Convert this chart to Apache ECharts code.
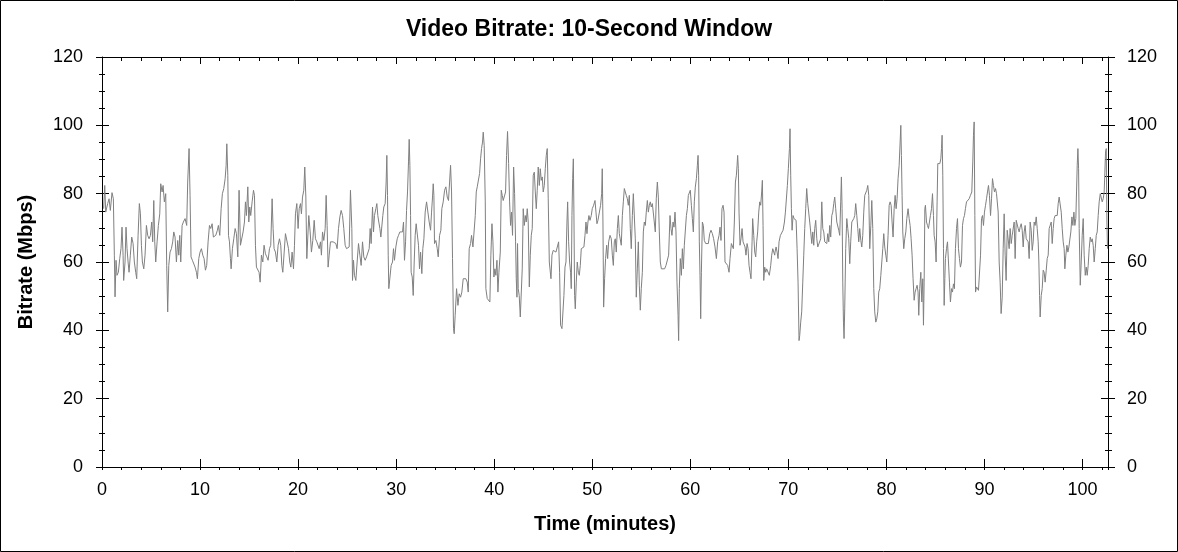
<!DOCTYPE html>
<html>
<head>
<meta charset="utf-8">
<title>Video Bitrate</title>
<script src="https://cdn.jsdelivr.net/npm/echarts@6/dist/echarts.min.js"></script>
<style>
  html, body { margin: 0; padding: 0; background: #fff; }
  #chart { width: 1178px; height: 552px; }
</style>
</head>
<body>
<div id="chart"></div>
<script>
// [minutes, Mbps], one array per stretch of the run
var part00to11 = [[0.17,75.6],[0.28,82.4],[0.38,74.6],[0.58,77.1],[0.72,78.5],[0.85,75.1],[1.02,80.3],[1.16,78.5],[1.26,62],[1.33,49.8],[1.43,60.5],[1.53,56.1],[1.67,57],[1.81,61],[1.94,64],[2.04,70.2],[2.15,62],[2.21,54.6],[2.35,60],[2.45,70.2],[2.55,64],[2.66,60],[2.76,57],[2.89,62],[3.03,67.3],[3.17,65.4],[3.30,60],[3.44,57],[3.54,55.1],[3.68,67.8],[3.81,77.1],[3.92,74.1],[4.02,64.9],[4.12,60],[4.26,58],[4.39,62],[4.53,70.7],[4.66,67.8],[4.80,66.8],[4.94,67.8],[5.07,71.7],[5.17,65.9],[5.28,78],[5.38,65.9],[5.48,60],[5.62,65.9],[5.75,70.7],[5.89,74.1],[5.99,82.9],[6.13,80.5],[6.23,82.4],[6.36,77.6],[6.50,80],[6.60,59],[6.70,45.4],[6.81,59],[6.94,62.9],[7.08,63.9],[7.21,65.9],[7.32,68.8],[7.45,67.3],[7.59,60],[7.72,66.3],[7.83,62],[7.93,67.8],[8.03,60],[8.17,70.7],[8.30,71.7],[8.47,72.7],[8.64,70.7],[8.74,83.4],[8.88,93.2],[8.98,79.5],[9.08,61.5],[9.22,60.5],[9.36,60],[9.49,58.5],[9.63,57],[9.73,55.1],[9.87,61],[10.00,62.9],[10.14,63.9],[10.28,62],[10.41,61],[10.55,57.6],[10.68,59],[10.82,65.9],[10.96,70.7],[11.09,69.8],[11.23,71.2],[11.36,67.3]];
var part11to23 = [[11.40,67.3],[11.60,67.8],[11.77,69.3],[11.87,70.7],[12.01,67.8],[12.15,75.6],[12.28,80],[12.42,81.5],[12.56,84.4],[12.66,88.3],[12.73,94.6],[12.83,85.4],[12.90,67.8],[13.00,65.9],[13.10,61],[13.17,58],[13.30,63.9],[13.44,66.8],[13.58,69.8],[13.71,68.3],[13.85,61.5],[13.98,81],[14.12,64.9],[14.26,64.4],[14.39,68.8],[14.53,71.7],[14.63,77.6],[14.73,73.6],[14.87,82],[14.97,71.7],[15.07,76.1],[15.17,73.6],[15.31,77.6],[15.45,81],[15.55,79.5],[15.65,64.9],[15.75,58.5],[15.89,58],[16.02,57],[16.13,54.1],[16.26,62],[16.40,60],[16.53,64.9],[16.67,62.4],[16.81,61.5],[16.94,60.5],[17.08,63.9],[17.21,64.9],[17.35,78.5],[17.45,69.8],[17.55,63.9],[17.69,62.9],[17.83,60],[17.96,64.9],[18.10,66.8],[18.23,64.9],[18.34,59],[18.44,57],[18.58,62.9],[18.71,68.3],[18.88,68.3],[19.02,63.9],[19.15,60],[19.26,58.5],[19.39,62.9],[19.53,58],[19.63,64.9],[19.73,74.1],[19.87,77.1],[20.00,69.8],[20.11,75.6],[20.24,77.1],[20.34,74.1],[20.45,79],[20.58,81],[20.68,87.8],[20.79,79],[20.89,61],[20.99,67.3],[21.09,73.6],[21.23,68.8],[21.36,62.9],[21.50,66.3],[21.64,72.2],[21.77,66.8],[21.91,65.9],[22.04,65.4],[22.15,63.9],[22.28,65.9],[22.38,62],[22.49,68.8],[22.62,66.3],[22.76,69.8],[22.86,79.5]];
var part23to34 = [[22.96,70.7],[23.06,58.5],[23.17,62],[23.30,65.9],[23.44,66.3],[23.57,65.9],[23.71,66.3],[23.85,65.4],[23.98,63.9],[24.12,69.8],[24.26,73.2],[24.39,75.1],[24.53,73.6],[24.66,69.8],[24.80,64.9],[24.94,63.9],[25.07,63.4],[25.21,64.4],[25.34,81],[25.48,69.8],[25.55,54.6],[25.65,60.5],[25.75,56.1],[25.89,54.6],[26.02,60],[26.16,65.4],[26.30,62],[26.43,59],[26.57,65.9],[26.70,61.5],[26.84,60.5],[26.98,61.5],[27.11,61],[27.25,63.9],[27.35,69.8],[27.45,65.4],[27.59,76.1],[27.69,68.8],[27.79,73.6],[27.93,75.6],[28.03,77.1],[28.13,73.6],[28.23,71.7],[28.34,69.8],[28.44,67.3],[28.54,66.8],[28.64,73.6],[28.74,76.1],[28.88,77.1],[28.98,83.4],[29.05,91.2],[29.12,79.5],[29.19,62],[29.25,52.2],[29.39,52.7],[29.49,59],[29.63,60],[29.73,63.9],[29.83,60.5],[29.97,64.4],[30.11,66.8],[30.24,67.8],[30.38,68.8],[30.51,68.3],[30.65,68.8],[30.75,71.7],[30.85,60.5],[30.96,65.9],[31.06,75.1],[31.16,80.5],[31.26,89.3],[31.33,95.9],[31.40,88.3],[31.47,73.6],[31.53,57],[31.64,55.6],[31.74,50.2],[31.84,60],[31.94,67.8],[32.04,71.2],[32.18,71.7],[32.28,64.9],[32.38,58],[32.49,62.9],[32.62,56.6],[32.72,63.9],[32.83,66.8],[32.96,74.6],[33.10,77.6],[33.23,77.6],[33.37,71.7],[33.51,69.3],[33.61,74.6],[33.71,79],[33.78,82.9],[33.85,79.5],[33.91,65.4],[34.05,66.3],[34.19,63.9],[34.29,61.5]];
var part34to46 = [[34.43,67.8],[34.56,69.3],[34.66,75.6],[34.80,77.6],[34.94,81],[35.07,82],[35.21,79],[35.34,78],[35.45,83.4],[35.55,88.3],[35.65,80.5],[35.75,61],[35.85,40.5],[35.92,39],[36.02,44.4],[36.16,52.2],[36.30,47.3],[36.43,50.7],[36.57,49.7],[36.70,51.2],[36.84,55.1],[36.98,54.6],[37.11,55.1],[37.25,54.1],[37.35,51.2],[37.45,63.9],[37.59,65.4],[37.69,67.8],[37.83,64.4],[37.96,63.9],[38.07,73.6],[38.17,80.5],[38.27,82],[38.41,82.4],[38.51,85.9],[38.61,90.2],[38.71,93.2],[38.81,95.1],[38.88,98],[38.98,94.1],[39.09,77.6],[39.15,52.2],[39.29,49.3],[39.43,48.8],[39.56,48.3],[39.66,62],[39.77,71.2],[39.87,65.9],[39.97,55.6],[40.07,58],[40.17,56.1],[40.28,60.5],[40.38,51.2],[40.48,57],[40.62,62.9],[40.72,81],[40.82,79.5],[40.92,78],[41.06,78.5],[41.16,80.5],[41.26,91.2],[41.36,98.2],[41.47,88.8],[41.57,77.6],[41.67,70.7],[41.77,74.6],[41.87,67.8],[41.98,87.8],[42.08,80],[42.18,65.9],[42.25,55.1],[42.32,49.7],[42.38,65.4],[42.45,52.2],[42.55,50.2],[42.66,43.9],[42.76,44.4],[42.86,58],[42.96,75.6],[43.07,70.7],[43.17,73.6],[43.27,71.7],[43.37,75.6],[43.47,71.7],[43.58,52.7],[43.68,62],[43.78,67.8],[43.88,69.8],[43.98,85.4],[44.09,86.3],[44.19,80.5],[44.29,75.6],[44.39,81],[44.49,87.8],[44.60,82.4],[44.70,87.3],[44.80,83.9],[44.90,84.9],[45.00,80.5],[45.11,82.4],[45.21,87.3],[45.31,91.2],[45.41,93.2],[45.51,78.5],[45.62,60]];
var part46to57 = [[45.79,55.1],[45.89,62],[46.02,63.4],[46.16,63.9],[46.30,62.9],[46.43,63.4],[46.57,65.9],[46.67,57],[46.77,41.5],[46.91,40.5],[47.01,40],[47.11,50.2],[47.22,58.5],[47.32,60],[47.42,71.7],[47.49,77.6],[47.59,65.9],[47.69,60],[47.79,57],[47.86,52.2],[47.93,73.6],[48.00,84.4],[48.07,90.2],[48.13,74.6],[48.20,50.2],[48.27,46.3],[48.37,54.1],[48.47,60],[48.58,57],[48.68,56.1],[48.78,59],[48.88,63.9],[49.02,63.9],[49.15,64.4],[49.26,67.8],[49.36,71.7],[49.46,68.3],[49.56,71.7],[49.66,73.6],[49.77,72.2],[49.90,73.6],[50.00,75.6],[50.14,76.6],[50.28,78],[50.38,74.6],[50.48,71.2],[50.58,72.2],[50.72,71.7],[50.85,76.6],[50.96,80],[51.02,87.3],[51.09,71.7],[51.16,46.8],[51.26,55.1],[51.36,61],[51.47,64.9],[51.57,61],[51.67,65.9],[51.81,67.8],[51.94,66.8],[52.05,62],[52.15,59],[52.25,65.9],[52.35,66.8],[52.45,62.9],[52.56,69.8],[52.66,73.6],[52.76,68.3],[52.86,68.3],[52.96,64.9],[53.07,73.6],[53.17,77.6],[53.27,81.5],[53.37,81],[53.47,79.5],[53.58,78.5],[53.68,76.6],[53.78,79.5],[53.88,69.8],[53.98,63.9],[54.09,73.6],[54.19,80],[54.29,79.5],[54.39,66.8],[54.49,49.7],[54.60,58],[54.70,65.9],[54.80,53.2],[54.90,45.9],[55.00,52.2],[55.11,57],[55.21,68.8],[55.31,71.7],[55.41,70.7],[55.51,74.6],[55.62,78],[55.72,74.6],[55.82,76.6],[55.92,77.6],[56.02,76.1],[56.13,77.1],[56.23,76.6],[56.33,77.6],[56.43,68.8],[56.53,78.5],[56.64,83.4],[56.74,79],[56.84,68.8],[56.94,60],[57.05,58],[57.15,58]];
var part57to69 = [[57.25,58.5],[57.38,58],[57.52,59],[57.66,59.5],[57.79,62],[57.93,73.6],[58.03,69.8],[58.13,67.8],[58.24,71.7],[58.34,70.2],[58.44,74.6],[58.54,68.8],[58.64,54.1],[58.75,44.4],[58.81,37],[58.88,52.2],[58.98,61],[59.09,56.1],[59.19,63.9],[59.29,58],[59.39,64.9],[59.49,65.4],[59.60,73.6],[59.70,75.6],[59.80,79.5],[59.90,80],[60.00,81],[60.11,76.6],[60.21,72.7],[60.31,68.8],[60.41,77.6],[60.51,81.9],[60.62,84.4],[60.72,88.3],[60.79,91.2],[60.85,85.4],[60.92,65.9],[60.99,56.1],[61.06,43.4],[61.13,57],[61.23,71.7],[61.33,70.7],[61.43,66.3],[61.57,65.4],[61.70,65.9],[61.84,65.4],[61.98,68.3],[62.11,69.3],[62.25,68.3],[62.38,66.8],[62.52,64.4],[62.66,61],[62.79,65.9],[62.93,67.8],[63.03,70.2],[63.13,66.3],[63.23,75.6],[63.34,76.6],[63.44,74.6],[63.54,60],[63.68,60],[63.81,59],[63.95,57],[64.05,61],[64.19,65.4],[64.29,65.9],[64.39,63.9],[64.49,71.7],[64.60,83.4],[64.70,85.4],[64.77,88.3],[64.83,91.2],[64.90,87.3],[64.97,74.6],[65.07,64.9],[65.17,66.8],[65.28,69.8],[65.38,65.9],[65.48,66.3],[65.58,64.4],[65.68,62],[65.79,65.4],[65.89,63.9],[65.99,59],[66.09,57],[66.19,55.1],[66.30,65.9],[66.36,72.7],[66.47,67.8],[66.57,62.9],[66.67,61.5],[66.77,65.9],[66.87,68.8],[66.98,74.6],[67.08,77.6],[67.18,76.6],[67.28,80.5],[67.35,83.9],[67.42,70.7],[67.49,54.6],[67.59,58.5],[67.69,57],[67.79,58],[67.93,57.6],[68.06,56.1],[68.20,59],[68.30,62],[68.41,63.9],[68.51,64.4],[68.61,62]];
var part69to80 = [[68.64,62.9],[68.75,64.4],[68.85,62.9],[68.95,61],[69.05,65.9],[69.19,67.8],[69.32,68.3],[69.46,69.3],[69.60,71.7],[69.70,74.6],[69.80,75.1],[69.90,82.4],[70.00,87.3],[70.11,93.2],[70.17,99],[70.24,85.4],[70.31,75.6],[70.38,69.3],[70.48,73.6],[70.58,72.7],[70.68,73.2],[70.79,72.2],[70.89,63.9],[70.99,54.1],[71.09,37],[71.16,38.5],[71.26,42.4],[71.36,45.4],[71.47,54.1],[71.57,62],[71.67,69.8],[71.77,75.6],[71.87,81.5],[71.98,77.1],[72.08,77.6],[72.18,71.7],[72.28,68.8],[72.39,65.4],[72.49,68.8],[72.59,64.9],[72.69,69.8],[72.79,72.2],[72.90,66.8],[73.00,64.4],[73.10,63.9],[73.20,64.9],[73.30,66.8],[73.41,77.6],[73.51,69.8],[73.61,68.8],[73.71,65.9],[73.81,66.3],[73.92,65.4],[74.02,68.3],[74.12,65.9],[74.22,70.7],[74.32,67.3],[74.43,73.6],[74.53,74.6],[74.63,77.1],[74.73,79],[74.83,75.6],[74.94,71.7],[75.04,71.2],[75.14,69.3],[75.24,67.8],[75.34,77.6],[75.41,84.9],[75.48,75.6],[75.55,54.1],[75.62,42.4],[75.68,37.6],[75.75,46.3],[75.85,63.9],[75.96,72.7],[76.06,69.8],[76.16,66.8],[76.26,59.5],[76.36,65.9],[76.47,71.7],[76.57,71.7],[76.67,72.7],[76.77,73.6],[76.87,77.1],[76.98,73.6],[77.08,69.8],[77.18,65.9],[77.28,69.8],[77.39,66.3],[77.49,64.4],[77.59,67.8],[77.69,74.6],[77.79,79.5],[77.90,80],[78.00,81],[78.10,82.4],[78.20,79.5],[78.30,63.9],[78.41,70.7],[78.51,78],[78.61,69.8],[78.71,52.2],[78.81,45.4],[78.92,42.4],[79.02,43.4],[79.12,45.4],[79.22,51.2],[79.32,52.2],[79.43,56.1],[79.53,60],[79.63,63.9],[79.73,68.3],[79.83,64.4],[79.94,62],[80.04,60]];
var part80to91 = [[80.17,67.8],[80.28,76.6],[80.38,77.6],[80.48,76.6],[80.58,71.7],[80.68,67.3],[80.79,75.6],[80.89,79.5],[80.99,75.6],[81.09,78.5],[81.19,84.4],[81.30,88.3],[81.40,95.1],[81.47,100],[81.53,91.2],[81.60,79.5],[81.67,68.8],[81.77,63.9],[81.87,66.8],[81.98,68.8],[82.08,72.7],[82.21,75.6],[82.32,72.7],[82.42,70.7],[82.52,66.8],[82.62,62],[82.72,55.1],[82.83,48.8],[82.93,51.2],[83.03,52.2],[83.13,53.2],[83.23,51.2],[83.30,44.4],[83.40,52.2],[83.51,57],[83.61,48.3],[83.71,55.1],[83.78,41.5],[83.85,54.1],[83.92,75.6],[83.98,76.6],[84.09,71.7],[84.19,70.7],[84.29,69.8],[84.39,71.7],[84.49,73.6],[84.60,75.6],[84.70,80],[84.80,73.6],[84.87,67.8],[84.97,65.9],[85.07,60],[85.17,77.6],[85.24,88.8],[85.34,89.3],[85.45,88.8],[85.55,90.2],[85.62,93.2],[85.68,97.1],[85.75,85.4],[85.82,63.9],[85.89,47.3],[85.96,55.1],[86.02,61],[86.13,63.9],[86.23,65.9],[86.33,60],[86.43,54.1],[86.53,48.3],[86.64,52.2],[86.74,51.2],[86.84,53.6],[86.94,52.2],[87.04,63.9],[87.15,69.8],[87.25,72.7],[87.35,63.9],[87.45,61],[87.55,58.5],[87.66,60],[87.76,70.7],[87.86,72.7],[87.96,73.6],[88.06,75.6],[88.17,77.6],[88.30,78],[88.44,78.5],[88.57,79.5],[88.71,80.5],[88.81,89.3],[88.88,97.1],[88.95,101],[89.02,73.6],[89.09,51.2],[89.19,52.7],[89.29,52.2],[89.39,51.7],[89.49,51.2],[89.60,62],[89.70,72.7],[89.80,73.6],[89.90,70.7],[90.00,74.6],[90.11,76.6],[90.21,78.5],[90.31,80.5],[90.41,82.4],[90.51,79.5],[90.62,73.6],[90.72,78.5],[90.82,84.4],[90.92,82.4],[91.02,80.5],[91.13,81.5],[91.23,80]];
var part91to103 = [[91.30,80.5],[91.40,74.6],[91.50,60],[91.60,54.1],[91.70,44.9],[91.81,49.7],[91.91,63.9],[92.01,74.1],[92.11,62],[92.21,54.6],[92.32,69.3],[92.42,69.8],[92.52,63.9],[92.62,69.8],[92.73,65.4],[92.83,67.8],[92.93,67.8],[93.03,71.7],[93.13,61],[93.24,72.2],[93.34,71.7],[93.44,69.8],[93.54,68.8],[93.64,70.2],[93.75,71.2],[93.85,69.3],[93.95,64.4],[94.05,68.8],[94.15,70.7],[94.26,66.8],[94.36,66.8],[94.46,65.9],[94.56,61],[94.66,71.7],[94.77,69.3],[94.87,63.4],[94.97,65.9],[95.07,71.7],[95.17,70.7],[95.28,73.2],[95.38,69.8],[95.48,65.9],[95.55,60],[95.62,50.2],[95.68,43.9],[95.79,50.2],[95.89,52.2],[95.99,57.6],[96.09,57],[96.19,54.1],[96.30,57.6],[96.40,61],[96.50,62],[96.60,69.8],[96.70,70.7],[96.81,71.7],[96.91,65.4],[97.01,69.8],[97.11,72.7],[97.21,73.6],[97.32,74.1],[97.42,73.6],[97.52,77.1],[97.62,79],[97.73,78.5],[97.83,74.6],[97.93,69.8],[98.03,65.9],[98.13,63.9],[98.20,58],[98.30,62],[98.41,64.9],[98.51,62.9],[98.61,64.4],[98.71,64.9],[98.81,68.8],[98.92,73.2],[99.02,70.7],[99.12,74.6],[99.22,70.7],[99.32,72.7],[99.39,80.5],[99.46,88.3],[99.53,93.2],[99.60,87.3],[99.66,69.8],[99.77,53.2],[99.87,60],[99.97,67.8],[100.07,72.7],[100.17,62],[100.28,56.1],[100.38,58.5],[100.48,56.1],[100.58,59],[100.68,63.9],[100.79,67.3],[100.89,65.9],[100.99,66.8],[101.09,64.9],[101.19,60],[101.30,63.9],[101.40,67.8],[101.50,68.8],[101.60,73.6],[101.70,77.6],[101.81,80],[101.91,79.5],[102.01,77.6],[102.11,78.5],[102.21,80.5],[102.28,86.3],[102.35,92.2],[102.42,93.2],[102.49,71.7],[102.55,63.9]];

var samples = [].concat(part00to11, part11to23, part23to34, part34to46, part46to57,
                        part57to69, part69to80, part80to91, part91to103);

var timeMax = 102.6;
var rateMax = 120;

var font = "'Liberation Sans', Arial, sans-serif";
var black = '#000';

function xAx(pos, step, tickLen, inside, extra) {
  return Object.assign({
    type: 'value', position: pos, min: 0, max: timeMax, interval: step,
    axisLine: { show: false, onZero: false },
    axisTick: { show: true, inside: inside, length: tickLen, lineStyle: { color: black, width: 1 } },
    axisLabel: { show: false },
    splitLine: { show: false }
  }, extra || {});
}
function yAx(pos, step, tickLen, inside, extra) {
  return Object.assign({
    type: 'value', position: pos, min: 0, max: rateMax, interval: step,
    axisLine: { show: false, onZero: false },
    axisTick: { show: true, inside: inside, length: tickLen, lineStyle: { color: black, width: 1 } },
    axisLabel: { show: false },
    splitLine: { show: false }
  }, extra || {});
}

var solidLine = { show: true, onZero: false, lineStyle: { color: black, width: 1 } };
var tickText = { show: true, color: black, fontFamily: font, fontSize: 18 };

var chart = echarts.init(document.getElementById('chart'));
chart.setOption({
  animation: false,
  backgroundColor: '#fff',
  title: {
    text: 'Video Bitrate: 10-Second Window',
    left: 'center', top: 13,
    textStyle: { fontFamily: font, fontSize: 23, fontWeight: 'bold', color: black }
  },
  graphic: [{
    type: 'rect', silent: true,
    shape: { x: 0.5, y: 0.5, width: 1177, height: 551 },
    style: { fill: 'none', stroke: black, lineWidth: 1 }
  }],
  grid: { left: 102, right: 70, top: 57, bottom: 85, containLabel: false },
  xAxis: [
    xAx('bottom', 10, 3, false, {
      axisLine: solidLine,
      axisLabel: Object.assign({}, tickText, {
        margin: 14,
        formatter: function (v) { return v % 10 === 0 ? String(v) : ''; }
      }),
      name: 'Time (minutes)', nameLocation: 'middle', nameGap: 47,
      nameTextStyle: { fontFamily: font, fontSize: 20, fontWeight: 'bold', color: black }
    }),
    xAx('bottom', 10, 8, true),
    xAx('bottom', 2, 3, false),
    xAx('top', 10, 7, true, { axisLine: solidLine }),
    xAx('top', 2, 4, true)
  ],
  yAxis: [
    yAx('left', 20, 6, false, {
      axisLine: solidLine,
      axisLabel: Object.assign({}, tickText, { margin: 19 }),
      name: 'Bitrate (Mbps)', nameLocation: 'middle', nameGap: 66,
      nameTextStyle: { fontFamily: font, fontSize: 20, fontWeight: 'bold', color: black }
    }),
    yAx('left', 20, 7, true),
    yAx('left', 5, 3, false),
    yAx('left', 5, 3, true),
    yAx('right', 20, 7, false, {
      axisLine: solidLine,
      axisLabel: Object.assign({}, tickText, { margin: 19 })
    }),
    yAx('right', 20, 7, true),
    yAx('right', 5, 4, false),
    yAx('right', 5, 3, true)
  ],
  series: [{
    type: 'line',
    xAxisIndex: 0, yAxisIndex: 0,
    data: samples,
    showSymbol: false, symbol: 'none',
    lineStyle: { color: '#808080', width: 1 },
    silent: true
  }]
});
</script>
</body>
</html>
